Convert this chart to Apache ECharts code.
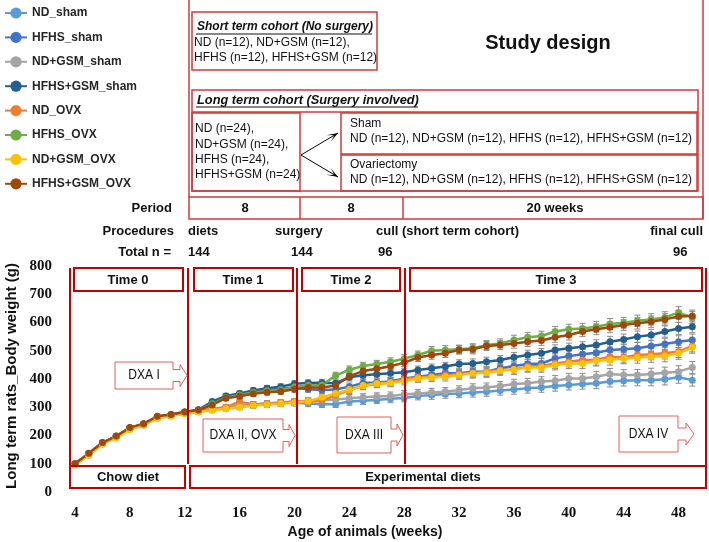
<!DOCTYPE html>
<html><head><meta charset="utf-8">
<script src="https://cdn.jsdelivr.net/npm/echarts@6/dist/echarts.min.js"></script>
<style>html,body{margin:0;padding:0;background:#fff}#c{width:709px;height:542px}</style>
</head><body><div id="c"></div>
<script>
// ---------- data ----------
const weeks = [4,5,6,7,8,9,10,11,12,13,14,15,16,17,18,19,20,21,22,23,24,25,26,27,28,29,30,31,32,33,34,35,36,37,38,39,40,41,42,43,44,45,46,47,48,49];
const xTicks = [4,8,12,16,20,24,28,32,36,40,44,48];
const yTicks = [0,100,200,300,400,500,600,700,800];

const ND_sham       = [98,132,170,193,222,237,262,270,279, 285,292,297,302,308,311,314,316, 313,311,311,320,323,326,330,333, 340,343,347,349,352,355,359,363,367,370,375,379,382,385,391,394,396,396,399,406,396];
const HFHS_sham     = [99,134,173,197,225,240,266,273,282, 290,315,334,344,353,360,366,370, 364,361,363,373,386,388,391,402, 408,414,420,420,426,426,438,446,453,455,473,481,488,493,503,505,509,517,524,532,538];
const NDGSM_sham    = [97,130,171,194,224,238,263,271,280, 286,295,300,306,310,313,316,320, 323,326,327,332,335,338,340,345, 349,352,355,361,367,370,375,382,385,391,394,402,402,408,418,414,414,418,422,426,441];
const HFHSGSM_sham  = [100,136,174,197,227,241,266,274,283, 291,320,340,349,359,367,373,383, 386,387,385,406,413,417,420,424, 432,438,444,453,455,461,467,477,485,491,503,509,514,520,532,540,550,556,568,579,585];
const ND_OVX        = [99,134,172,195,226,239,265,272,280, 287,293,300,320,310,313,317,320, 320,323,343,361,375,382,387,399, 406,408,414,418,420,426,432,434,444,446,455,461,467,468,479,476,485,488,491,497,517];
const HFHS_OVX      = [99,135,173,196,226,240,266,273,282, 289,312,334,343,352,358,362,372, 378,379,412,433,446,453,461,472, 485,500,503,505,509,520,526,538,548,552,568,576,579,585,595,599,606,611,618,635,618];
const NDGSM_OVX     = [96,131,170,192,221,236,261,269,277, 283,289,295,300,306,309,313,316, 321,335,349,363,377,384,387,393, 402,406,408,414,420,422,429,434,441,441,450,455,455,465,468,473,476,479,481,491,512];
const HFHSGSM_OVX   = [100,137,175,198,228,242,268,274,283, 290,308,332,339,348,353,356,364, 370,370,377,410,428,436,445,458, 476,485,491,503,505,517,520,526,532,536,548,556,568,576,583,591,597,603,611,621,623];
const sem           = [3,4,5,5,6,6,6,7,7, 7,8,9,9,10,10,10,11, 11,12,12,13,13,13,14,14, 14,15,15,15,16,16,16,17,17,17,18,18,18,19,19,19,20,20,20,21,21];

const groupNames  = ['ND_sham','HFHS_sham','ND+GSM_sham','HFHS+GSM_sham','ND_OVX','HFHS_OVX','ND+GSM_OVX','HFHS+GSM_OVX'];
const groupValues = [ND_sham, HFHS_sham, NDGSM_sham, HFHSGSM_sham, ND_OVX, HFHS_OVX, NDGSM_OVX, HFHSGSM_OVX];
const groupColors = ['#5B9BD5','#4472C4','#A5A5A5','#255E91','#ED7D31','#70AD47','#FFC000','#9E480E'];

// ---------- helpers for decorations ----------
const SANS = '"Liberation Sans", Arial, sans-serif';
const SERIF = '"Liberation Serif", "Times New Roman", serif';
const RED = '#c00000', RED2 = '#d23a3a', RED3 = '#e06060';
const G = [];
function R(x,y,w,h,stroke,lw){G.push({type:'rect',shape:{x:x,y:y,width:w,height:h},style:{fill:'none',stroke:stroke,lineWidth:lw},z:50});}
function L(x1,y1,x2,y2,stroke,lw){G.push({type:'line',shape:{x1:x1,y1:y1,x2:x2,y2:y2},style:{stroke:stroke,lineWidth:lw},z:50});}
function T(t,x,y,font,align,color){G.push({type:'text',z:60,style:{text:t,x:x,y:y,font:font,textAlign:align||'left',textVerticalAlign:'middle',fill:color||'#111'}});}
function callout(x0,y0,x1,y1,tip,label){
  const ym=(y0+y1)/2, s=x1+(tip-x1)/2;
  G.push({type:'polygon',z:55,shape:{points:[[x0,y0],[x1,y0],[x1,ym-6],[s,ym-6],[s,ym-11],[tip,ym],[s,ym+11],[s,ym+6],[x1,ym+6],[x1,y1],[x0,y1]]},style:{fill:'#fff',stroke:RED3,lineWidth:1}});
  G.push({type:'text',z:60,x:(x0+x1)/2,y:ym,scaleX:0.86,style:{text:label,x:0,y:0,font:'14px '+SANS,textAlign:'center',textVerticalAlign:'middle',fill:'#111'}});
}
function arrow(x1,y1,x2,y2){
  L(x1,y1,x2,y2,'#000',1);
  const dx=x2-x1, dy=y2-y1, len=Math.sqrt(dx*dx+dy*dy), ux=dx/len, uy=dy/len;
  const bx=x2-11*ux, by=y2-11*uy, px=-uy, py=ux;
  G.push({type:'polygon',z:55,shape:{points:[[x2,y2],[bx+4*px,by+4*py],[bx+7*ux,by+7*uy],[bx-4*px,by-4*py]]},style:{fill:'#000'}});
}

// ---- top study design panel ----
L(189,0,189,197,RED2,1.5);
L(703,0,703,219,RED2,1.5);
R(192,12,185,58,RED2,1.5);
T('Short term cohort (No surgery)',197,27,'italic bold 12px '+SANS,'left','#111');
L(196,34,372,34,'#111',1);
T('ND (n=12), ND+GSM (n=12),',194,43,'12px '+SANS);
T('HFHS (n=12), HFHS+GSM (n=12)',194,58,'12px '+SANS);
T('Study design',548,43,'bold 20px '+SANS,'center','#111');
R(192,90,506,101,RED2,1.5);
L(192,112,698,112,RED2,1.5);
T('Long term cohort (Surgery involved)',197,100,'italic bold 12.8px '+SANS,'left','#111');
L(196,107,418,107,'#111',1);
R(192,113,108,78,RED2,1.5);
T('ND (n=24),',195,129,'12px '+SANS);
T('ND+GSM (n=24),',195,145,'12px '+SANS);
T('HFHS (n=24),',195,160,'12px '+SANS);
T('HFHS+GSM (n=24)',195,175,'12px '+SANS);
R(341,113,356,41,RED2,1.5);
R(341,155,356,36,RED2,1.5);
T('Sham',350,124,'12px '+SANS);
T('ND (n=12), ND+GSM (n=12), HFHS (n=12), HFHS+GSM (n=12)',350,139,'12px '+SANS);
T('Ovariectomy',350,165,'12px '+SANS);
T('ND (n=12), ND+GSM (n=12), HFHS (n=12), HFHS+GSM (n=12)',350,180,'12px '+SANS);
arrow(301,155,338,133);
arrow(301,155,338,177);
// period rows
R(189,197,514,22,RED2,1.5);
L(300,197,300,219,RED2,1.5);
L(403,197,403,219,RED2,1.5);
T('Period',172,208,'bold 13px '+SANS,'right');
T('8',245,208,'bold 13px '+SANS,'center');
T('8',351,208,'bold 13px '+SANS,'center');
T('20 weeks',555,208,'bold 13px '+SANS,'center');
T('Procedures',174,231,'bold 13px '+SANS,'right');
T('diets',188,231,'bold 13px '+SANS,'left');
T('surgery',275,231,'bold 13px '+SANS,'left');
T('cull (short term cohort)',376,231,'bold 13px '+SANS,'left');
T('final cull',703,231,'bold 13px '+SANS,'right');
T('Total n =',171,252,'bold 13px '+SANS,'right');
T('144',188,252,'bold 13px '+SANS,'left');
T('144',291,252,'bold 13px '+SANS,'left');
T('96',378,252,'bold 13px '+SANS,'left');
T('96',673,252,'bold 13px '+SANS,'left');

// ---- chart region boxes ----
L(70,268,70,488,RED,2);
L(706,268,706,488,RED,2);
L(188,268,188,464,RED,2);
L(297,268,297,464,RED,2);
L(405,268,405,464,RED,2);
R(74,268,109,23,RED,2);  T('Time 0',128,280,'bold 13px '+SANS,'center');
R(194,268,99,23,RED,2);  T('Time 1',243,280,'bold 13px '+SANS,'center');
R(302,268,98,23,RED,2);  T('Time 2',351,280,'bold 13px '+SANS,'center');
R(410,268,292,23,RED,2); T('Time 3',556,280,'bold 13px '+SANS,'center');
R(70,466,115,22,RED,2);  T('Chow diet',128,477,'bold 13px '+SANS,'center');
R(190,466,516,22,RED,2); T('Experimental diets',423,477,'bold 13px '+SANS,'center');
callout(115,362,173,389,187,'DXA I');
callout(203,419,283,452,295,'DXA II, OVX');
callout(337,417,391,453,403,'DXA III');
callout(619,416,678,452,694,'DXA IV');
// axis titles
T('Age of animals (weeks)',365,532,'bold 14px '+SANS,'center','#111');
G.push({type:'text',z:60,x:12,y:376,rotation:Math.PI/2,style:{text:'Long term rats_Body weight (g)',x:0,y:0,font:'bold 15px '+SANS,textAlign:'center',textVerticalAlign:'middle',fill:'#111'}});

// ---------- series ----------
function errRender(params, api){
  const x=api.value(0), y=api.value(1), e=api.value(2);
  const top=api.coord([x,y+e]), bot=api.coord([x,y-e]);
  const st={stroke:'#8a8a8a',lineWidth:1};
  return {type:'group',children:[
    {type:'line',shape:{x1:top[0],y1:top[1],x2:bot[0],y2:bot[1]},style:st},
    {type:'line',shape:{x1:top[0]-3,y1:top[1],x2:top[0]+3,y2:top[1]},style:st},
    {type:'line',shape:{x1:bot[0]-3,y1:bot[1],x2:bot[0]+3,y2:bot[1]},style:st}
  ]};
}
const series=[];
groupNames.forEach(function(n,i){
  series.push({type:'custom',name:n+'_err',renderItem:errRender,z:1,silent:true,
    data:weeks.map(function(w,k){return [w,groupValues[i][k],sem[k]];})});
});
groupNames.forEach(function(n,i){
  series.push({type:'line',name:n,z:2,symbol:'circle',symbolSize:7,
    color:groupColors[i],lineStyle:{width:2.5,color:groupColors[i]},itemStyle:{color:groupColors[i]},
    data:weeks.map(function(w,k){return [w,groupValues[i][k]];})});
});

const chart=echarts.init(document.getElementById('c'),null,{renderer:'canvas'});
chart.setOption({
  animation:false,
  backgroundColor:'#fff',
  legend:{orient:'vertical',left:0,top:0,padding:[7,5,5,4],itemWidth:22,itemHeight:14,itemGap:12.4,data:groupNames,
    textStyle:{fontFamily:SANS,fontWeight:'bold',fontSize:12,color:'#262626'}},
  grid:{left:75,right:2,top:266,bottom:50,containLabel:false},
  xAxis:{type:'value',min:4,max:50,interval:4,
    axisLine:{show:false},axisTick:{show:false},splitLine:{show:false},
    axisLabel:{margin:14,fontFamily:SERIF,fontWeight:'bold',fontSize:15,color:'#111',
      formatter:function(v){return xTicks.indexOf(v)>=0?String(v):'';}}},
  yAxis:{type:'value',min:0,max:800,interval:100,
    axisLine:{show:false},axisTick:{show:false},splitLine:{show:false},
    axisLabel:{margin:23,fontFamily:SERIF,fontWeight:'bold',fontSize:15,color:'#111',
      formatter:function(v){return yTicks.indexOf(v)>=0?String(v):'';}}},
  graphic:G,
  series:series
});
</script></body></html>
